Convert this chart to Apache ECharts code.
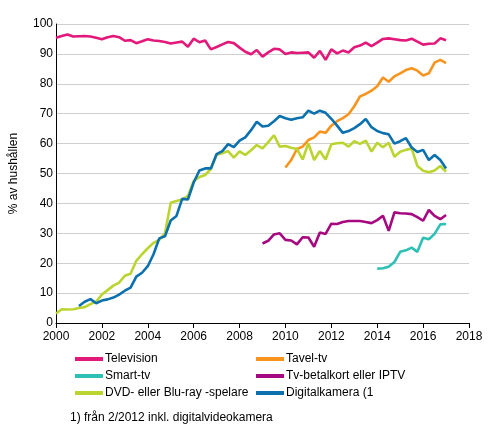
<!DOCTYPE html>
<html>
<head>
<meta charset="utf-8">
<script src="https://cdn.jsdelivr.net/npm/echarts@6/dist/echarts.min.js"></script>
<style>
html,body{margin:0;padding:0;background:#fff;}
#chart{width:491px;height:436px;}
</style>
</head>
<body>
<div id="chart"></div>
<script>
// Quarterly categories 2000Q1 .. 2018Q1
var years = [2000,2001,2002,2003,2004,2005,2006,2007,2008,2009,2010,2011,2012,2013,2014,2015,2016,2017,2018];
var tickLabels = ['2000','2002','2004','2006','2008','2010','2012','2014','2016','2018'];

// Series values (start quarter index within categories, values per quarter)
var televisionStart = 0;
var television = [95.4,96.0,96.5,95.8,95.9,96.0,95.8,95.4,94.9,95.6,96.0,95.6,94.4,94.6,93.6,94.2,94.9,94.5,94.3,94.0,93.5,93.8,94.1,92.4,95.1,93.9,94.5,91.5,92.3,93.2,94.0,93.6,92.1,90.7,89.9,91.3,89.1,90.5,91.7,91.5,90.0,90.5,90.3,90.4,90.5,88.7,91.0,88.0,91.5,90.2,91.1,90.5,92.2,92.8,93.8,92.6,93.8,95.0,95.2,94.9,94.6,94.5,95.1,94.1,93.1,93.4,93.5,95.2,94.6];

var tavelStart = 40;
var tavel = [52.0,54.5,58.2,59.0,61.2,62.1,64.0,63.6,66.0,67.5,68.5,69.8,72.5,75.8,76.6,77.7,79.2,82.1,80.7,82.5,83.5,84.6,85.2,84.4,82.8,83.5,87.1,88.0,86.9];

var smartStart = 56;
var smart = [18.2,18.3,18.8,20.4,23.8,24.3,25.2,23.8,28.5,28.0,29.8,33.0,33.1];

var iptvStart = 36;
var iptv = [26.6,27.5,29.6,30.0,27.8,27.6,26.3,28.7,28.6,25.5,30.3,29.8,33.2,33.1,33.8,34.1,34.1,34.1,33.8,33.4,34.4,35.9,30.8,37.0,36.7,36.6,36.4,35.4,34.2,37.8,35.8,34.7,36.1];

var dvdStart = 0;
var dvd = [3.2,4.6,4.5,4.6,5.0,5.3,6.3,7.2,9.5,11.0,12.5,13.5,15.8,16.5,20.8,23.0,25.0,26.8,27.8,30.0,40.2,40.8,41.3,42.5,47.5,48.8,49.5,51.5,56.3,56.8,57.5,55.3,57.4,56.2,57.8,59.5,58.4,60.5,62.8,59.0,59.2,58.6,58.2,54.7,60.1,54.5,57.5,54.7,59.8,60.1,60.3,59.0,60.8,59.9,61.0,57.3,60.3,58.8,60.3,55.6,57.3,57.9,58.4,52.5,50.9,50.4,51.0,52.5,50.6];

var cameraStart = 4;
var camera = [5.7,7.1,8.0,6.6,7.5,7.9,8.5,9.5,10.8,11.8,15.5,16.8,19.0,23.0,28.3,29.0,34.3,35.8,41.5,41.3,47.0,51.0,51.7,51.7,56.5,57.5,59.8,58.8,61.0,62.1,64.5,67.3,65.7,66.0,67.5,69.2,68.5,68.0,68.5,68.8,71.0,70.0,71.0,70.3,68.3,66.0,63.6,64.2,65.2,66.5,68.2,65.5,64.2,63.5,63.1,60.0,60.8,61.8,58.7,57.2,57.9,54.5,56.2,54.5,51.7];

var seriesNames = ['Television','Tavel-tv','Smart-tv','Tv-betalkort eller IPTV','DVD- eller Blu-ray -spelare','Digitalkamera (1'];
var seriesColors = ['#e2187a','#f7941e','#2fc0b5','#a6087f','#bcd430','#0a70ae'];
var footnote = '1) från 2/2012 inkl. digitalvideokamera';

var categories = [];
years.forEach(function(y){
  for (var q = 1; q <= 4; q++) {
    if (y === 2018 && q > 1) break;
    categories.push(y + 'Q' + q);
  }
});

function pad(start, vals){
  var out = [];
  for (var i = 0; i < start; i++) out.push(null);
  return out.concat(vals);
}

var dataSets = [
  pad(televisionStart, television),
  pad(tavelStart, tavel),
  pad(smartStart, smart),
  pad(iptvStart, iptv),
  pad(dvdStart, dvd),
  pad(cameraStart, camera)
];

var series = seriesNames.map(function(n, i){
  return {
    name: n,
    type: 'line',
    data: dataSets[i],
    symbol: 'none',
    showSymbol: false,
    connectNulls: false,
    lineStyle: {width: 2.6, color: seriesColors[i]},
    itemStyle: {color: seriesColors[i]},
    emphasis: {disabled: true},
    animation: false
  };
});

var legendCommon = {
  orient: 'vertical',
  itemWidth: 28,
  itemHeight: 4,
  itemGap: 3,
  icon: 'rect',
  textStyle: {fontFamily: 'Liberation Sans, Arial, sans-serif', fontSize: 12, color: '#000', lineHeight: 14, padding: [0,0,0,-3]},
  padding: 0,
  selectedMode: false
};

var chart = echarts.init(document.getElementById('chart'), null, {renderer: 'canvas'});
chart.setOption({
  backgroundColor: '#fff',
  animation: false,
  textStyle: {fontFamily: 'Liberation Sans, Arial, sans-serif'},
  grid: {left: 49, right: 22, top: 24, bottom: 113, containLabel: false},
  legend: [
    Object.assign({}, legendCommon, {left: 75, top: 352, data: [seriesNames[0], seriesNames[2], seriesNames[4]]}),
    Object.assign({}, legendCommon, {left: 256, top: 352, data: [seriesNames[1], seriesNames[3], seriesNames[5]]})
  ],
  xAxis: {
    type: 'category',
    data: categories,
    boundaryGap: false,
    axisLine: {show: true, lineStyle: {color: '#000', width: 1}},
    axisTick: {show: true, interval: 7, length: 5, lineStyle: {color: '#000'}},
    axisLabel: {
      interval: 7,
      margin: 8,
      fontSize: 12,
      color: '#000',
      formatter: function(v){ var y = v.slice(0,4); return tickLabels.indexOf(y) >= 0 ? y : ''; }
    },
    splitLine: {show: false}
  },
  yAxis: {
    type: 'value',
    min: 0,
    max: 100,
    interval: 10,
    name: '% av hushållen',
    nameLocation: 'middle',
    nameGap: 36,
    nameTextStyle: {fontSize: 12, color: '#000'},
    axisLine: {show: true, lineStyle: {color: '#000', width: 1}},
    axisTick: {show: false},
    axisLabel: {fontSize: 12, color: '#000', margin: 3},
    splitLine: {show: true, lineStyle: {color: '#cfcfcf', width: 1}}
  },
  graphic: [{
    type: 'text',
    left: 70,
    top: 412,
    style: {text: footnote, fontSize: 12, fill: '#000', fontFamily: 'Liberation Sans, Arial, sans-serif'}
  }],
  series: series
});
</script>
</body>
</html>
